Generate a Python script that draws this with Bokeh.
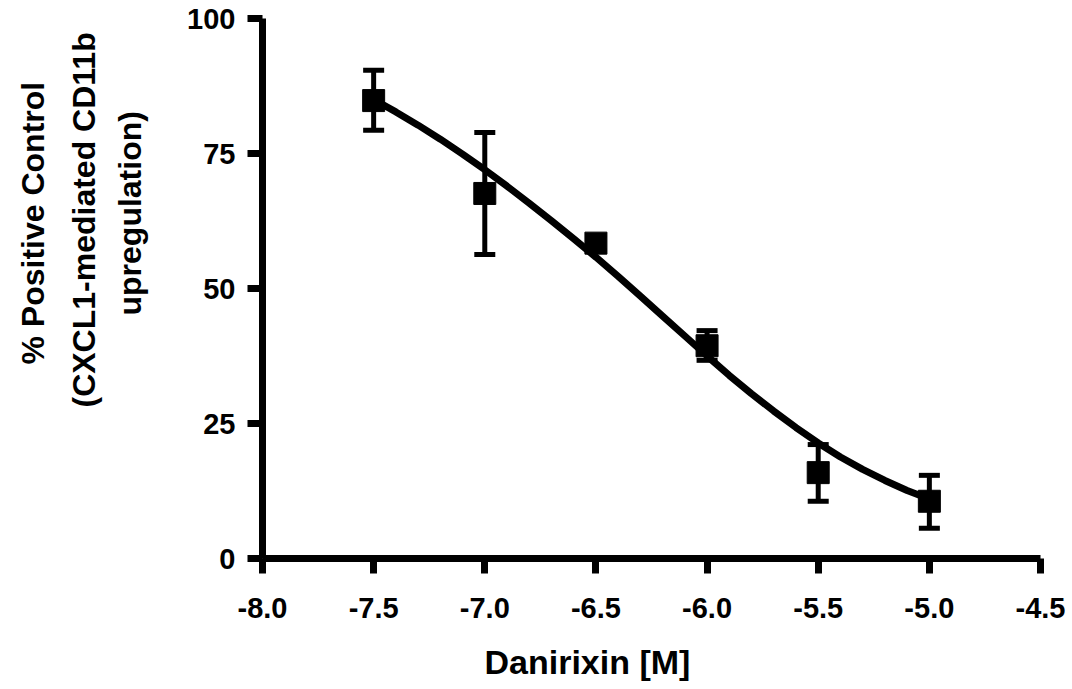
from bokeh.plotting import figure
from bokeh.models import (ColumnDataSource, Range1d, FixedTicker, Whisker, TeeHead,
                          Title, LinearAxis)
from bokeh.embed import file_html
from bokeh.resources import INLINE

# ---- data ----
log_conc = [-7.5, -7.0, -6.5, -6.0, -5.5, -5.0]
pct_mean = [84.8, 67.6, 58.4, 39.4, 15.9, 10.6]
err_upper = [90.4, 78.9, 59.8, 42.2, 21.1, 15.4]
err_lower = [79.3, 56.3, 57.0, 36.7, 10.6, 5.6]

fit_x = [-7.5, -7.4, -7.3, -7.2, -7.1, -7.0, -6.9, -6.8, -6.7, -6.6, -6.5,
         -6.4, -6.3, -6.2, -6.1, -6.0, -5.9, -5.8, -5.7, -5.6, -5.5,
         -5.4, -5.3, -5.2, -5.1, -5.0]
fit_y = [85.0, 82.7, 80.25, 77.65, 74.9, 72.0, 68.95, 65.8, 62.55, 59.2, 55.8,
         52.25, 48.6, 44.9, 41.2, 37.5, 33.9, 30.5, 27.3, 24.25, 21.4,
         18.8, 16.5, 14.45, 12.6, 11.0]

x_ticks = [-8.0, -7.5, -7.0, -6.5, -6.0, -5.5, -5.0, -4.5]
x_tick_labels = ["-8.0", "-7.5", "-7.0", "-6.5", "-6.0", "-5.5", "-5.0", "-4.5"]
y_ticks = [0, 25, 50, 75, 100]
y_tick_labels = ["0", "25", "50", "75", "100"]

x_title = "Danirixin [M]"
y_title_lines = ["% Positive Control", "(CXCL1-mediated CD11b", "upregulation)"]

FONT = "Liberation Sans"

p = figure(width=1072, height=689, output_backend="svg", toolbar_location=None,
           x_range=Range1d(-8.0, -4.5), y_range=Range1d(0, 100),
           min_border_left=262, min_border_right=32, min_border_top=18,
           min_border_bottom=131)
p.outline_line_color = None
p.xgrid.visible = False
p.ygrid.visible = False
p.background_fill_color = "white"

for ax, ticks, labels in ((p.xaxis[0], x_ticks, x_tick_labels), (p.yaxis[0], y_ticks, y_tick_labels)):
    ax.ticker = FixedTicker(ticks=ticks)
    ax.major_label_overrides = {t: l for t, l in zip(ticks, labels)}
    ax.axis_line_width = 7
    ax.axis_line_color = "black"
    ax.major_tick_line_width = 7
    ax.major_tick_line_color = "black"
    ax.major_tick_in = 0
    ax.major_tick_out = 15
    ax.minor_tick_line_color = None
    ax.major_label_text_font = FONT
    ax.major_label_text_font_style = "bold"
    ax.major_label_text_font_size = "29px"
    ax.major_label_text_color = "black"
p.xaxis[0].major_label_standoff = 24
p.yaxis[0].major_label_standoff = 12


def spacer(size, at):
    """A blank axis (white tick on white, no label) that only reserves room."""
    return LinearAxis(ticker=FixedTicker(ticks=[at]), axis_line_color=None,
                      major_tick_line_color="white", major_tick_line_width=1,
                      minor_tick_line_color=None,
                      major_tick_in=0, major_tick_out=size, minor_tick_out=0,
                      major_label_standoff=0, major_label_overrides={at: ""})


# fitted curve
p.line(fit_x, fit_y, line_width=7, line_color="black")

# error bars
src = ColumnDataSource(dict(x=log_conc, y=pct_mean, upper=err_upper, lower=err_lower))
w = Whisker(base="x", upper="upper", lower="lower", source=src,
            line_width=5, line_color="black",
            upper_head=TeeHead(size=21, line_width=5, line_color="black"),
            lower_head=TeeHead(size=21, line_width=5, line_color="black"))
p.add_layout(w)

# points
p.scatter("x", "y", source=src, marker="square", size=22,
          fill_color="black", line_color="black")

# y titles (nearest axis first)
p.add_layout(spacer(32, 2), "left")
y_offsets = [194, 151, 243]
y_standoffs = [20, 6, 10]
for txt, off, so in reversed(list(zip(y_title_lines, y_offsets, y_standoffs))):
    t = Title(text=txt, align="left", offset=off, text_font=FONT,
              text_font_style="bold", text_font_size="32px", text_color="black",
              standoff=so)
    p.add_layout(t, "left")

p.add_layout(spacer(19, -4.55), "below")
xt = Title(text=x_title, align="left", offset=222, text_font=FONT,
           text_font_style="bold", text_font_size="34px", text_color="black",
           standoff=2)
p.add_layout(xt, "below")

open("out.html", "w").write(file_html(p, INLINE))
